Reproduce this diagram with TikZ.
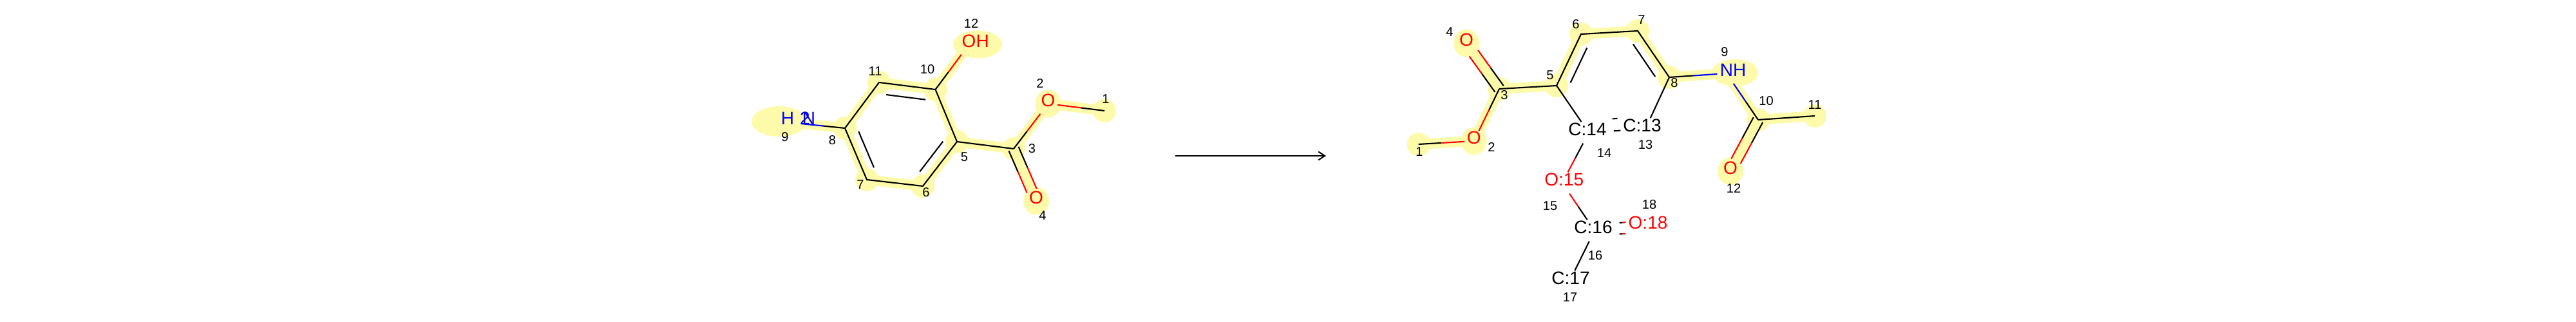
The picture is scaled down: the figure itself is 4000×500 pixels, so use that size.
\documentclass[tikz,border=0pt]{standalone}
\usepackage{fontspec}
\setmainfont{Liberation Sans}
\usetikzlibrary{calc,backgrounds,arrows.meta}

\definecolor{hilite}{HTML}{FDFBAA}
\tikzset{
  bond/.style={line width=.021cm},
  hlbond/.style={line width=.16cm,hilite},
  atom/.style={rectangle,inner sep=0pt,minimum width=.28cm,minimum height=.3cm,font=\fontsize{7.97}{8}\selectfont},
  mapped/.style={atom,minimum width=.76cm,minimum height=.32cm},
  idx/.style={inner sep=0pt,font=\fontsize{5.7}{6}\selectfont}
}
\newcommand{\atomtxt}[2][0cm]{\makebox[0pt]{\kern#1\raisebox{-.04cm}[0pt][0pt]{#2}}}
\newcommand{\halfbond}[4]{
  \path (#1) -- (#2) coordinate[midway] (mid);
  \draw[bond,#3] (#1) -- (mid);
  \draw[bond,#4] (mid) -- (#2);
}
\newcommand{\dblbond}[6]{
  \begin{scope}[transform canvas={xshift=#3,yshift=#4}]
    \halfbond{#1}{#2}{#5}{#6}
  \end{scope}
  \begin{scope}[transform canvas={xshift=-1*(#3),yshift=-1*(#4)}]
    \halfbond{#1}{#2}{#5}{#6}
  \end{scope}
}
\newcommand{\innerbond}[5][.175cm]{
  \draw[bond] ($(#2)!#4!(#3)!#1!90:(#3)$) -- ($(#2)!#5!(#3)!#1!90:(#3)$);
}

\begin{document}
\begin{tikzpicture}[x=.01cm,y=-.01cm]
  \useasboundingbox (0,0) rectangle (4000,500);

  % left molecule
  \coordinate (L1) at (1715,172);
  \node[atom,text=red] (L2) at (1627.5,161) {\atomtxt{O}};
  \coordinate (L3) at (1574,231);
  \node[atom,text=red] (L4) at (1609,312) {\atomtxt{O}};
  \coordinate (L5) at (1486,220);
  \coordinate (L6) at (1433,289);
  \coordinate (L7) at (1346,279);
  \coordinate (L8) at (1312,199);
  \node[atom,minimum width=.66cm] (L9) at (1210,188.6) {};
  \coordinate (L10) at (1452.5,139);
  \coordinate (L11) at (1365,128);
  \node[atom,text=red] (L12) at (1504.6,69) {\atomtxt{\hphantom{H}OH}};
  \node[atom,text=blue] (H9) at (1223,189) {\atomtxt{H}};
  \node[atom,text=blue] (S9) at (1250,189) {\atomtxt{2}};
  \node[atom,text=blue] (N9) at (1256,189) {\atomtxt{N}};

  \draw[bond] (L5) -- (L6) -- (L7) -- (L8) -- (L11) -- (L10) -- (L5) -- (L3);
  \halfbond{L3}{L2}{black}{red}
  \halfbond{L2}{L1}{red}{black}
  \dblbond{L3}{L4}{.075cm}{.032cm}{black}{red}
  \halfbond{L10}{L12}{black}{red}
  \halfbond{L8}{L9}{black}{blue}
  \innerbond{L10}{L11}{.15}{.85}
  \innerbond{L8}{L7}{.15}{.85}
  \innerbond{L6}{L5}{.17}{.85}

  \foreach \x/\y/\t in {1717/154/1,1615/130/2,1602.5/231/3,1619/335/4,1497.5/244/5,1438/299/6,
      1336/287/7,1292.5/218/8,1219/213/9,1440/108/10,1359/111/11,1508/37/12}
    \node[idx] (nl\t) at (\x,\y) {\t};

  % arrow
  \coordinate (from) at (1825,242);
  \coordinate (to) at (2059,242);
  \draw[line width=.02cm,-{Straight Barb[length=.1cm,width=.13cm]}] (from) -- (to);

  % right molecule
  \coordinate (R1) at (2202.6,224);
  \node[atom,text=red] (R2) at (2288.7,219) {\atomtxt{O}};
  \coordinate (R3) at (2328,138);
  \node[atom,text=red] (R4) at (2277,67) {\atomtxt{O}};
  \coordinate (R5) at (2417,133);
  \coordinate (R6) at (2455,53);
  \coordinate (R7) at (2543,48);
  \coordinate (R8) at (2592,120);
  \node[atom,text=blue] (R9) at (2681,114) {\atomtxt{\hphantom{H}NH}};
  \coordinate (R10) at (2730,186);
  \coordinate (R11) at (2818,180);
  \node[atom,text=red] (R12) at (2687,266) {\atomtxt{O}};
  \node[mapped] (R13) at (2555,200) {\atomtxt[-.1cm]{C:13}};
  \node[mapped] (R14) at (2467,206) {\atomtxt[-.04cm]{C:14}};
  \node[mapped,text=red] (R15) at (2425.7,284) {\atomtxt[.06cm]{O:15}};
  \node[mapped] (R16) at (2476,358) {\atomtxt[-.04cm]{C:16}};
  \node[mapped] (R17) at (2437,437) {\atomtxt[.04cm]{C:17}};
  \node[mapped,text=red,minimum width=.68cm] (R18) at (2559,351) {\atomtxt{O:18}};

  \draw[bond] (R3) -- (R5) -- (R6) -- (R7) -- (R8);
  \draw[bond] (R5) -- (R14);
  \draw[bond] (R8) -- (R13);
  \draw[bond] (R14) -- (R13);
  \draw[bond] (R10) -- (R11);
  \draw[bond] (R16) -- (R17);
  \halfbond{R1}{R2}{black}{red}
  \halfbond{R2}{R3}{red}{black}
  \dblbond{R3}{R4}{.067cm}{.048cm}{black}{red}
  \halfbond{R8}{R9}{black}{blue}
  \halfbond{R9}{R10}{blue}{black}
  \dblbond{R10}{R12}{.072cm}{-.039cm}{black}{red}
  \halfbond{R14}{R15}{black}{red}
  \halfbond{R15}{R16}{red}{black}
  \dblbond{R16}{R18}{0cm}{.088cm}{black}{red}
  \innerbond{R6}{R5}{.17}{.85}
  \innerbond{R8}{R7}{.15}{.85}
  \innerbond[.19cm]{R14}{R13}{.43}{.52}

  \foreach \x/\y/\t in {2204/236/1,2316/228/2,2336/148/3,2251/50/4,2407/117/5,2447/38/6,
      2549/31/7,2600/129/8,2678/81/9,2742.5/157/10,2818/163/11,2692/292/12,
      2555/225/13,2491/238/14,2407/320/15,2477/397/16,2438/462/17,2561/318/18}
    \node[idx] (nr\t) at (\x,\y) {\t};

  % highlights go behind everything
  \begin{scope}[on background layer]
    \foreach \a/\b in {L1/L2,L2/L3,L3/L4,L3/L5,L5/L6,L6/L7,L7/L8,L8/L9,L8/L11,L11/L10,L10/L5,L10/L12,
        R1/R2,R2/R3,R3/R4,R3/R5,R5/R6,R6/R7,R7/R8,R8/R9,R9/R10,R10/R11,R10/R12}
      \draw[hlbond] (\a.center) -- (\b.center);
    \foreach \a in {L1,L3,L5,L6,L7,L8,L10,L11,R1,R3,R5,R6,R7,R8,R10,R11}
      \fill[hilite] (\a.center) circle[radius=.18cm];
    \foreach \a in {L2,L4,R2,R4,R12}
      \fill[hilite] (\a.center) ellipse[x radius=.2cm,y radius=.215cm];
    \fill[hilite] (1518,69) ellipse[x radius=.38cm,y radius=.215cm];
    \fill[hilite] (L9.center) ellipse[x radius=.43cm,y radius=.235cm];
    \fill[hilite] (2694,113) ellipse[x radius=.36cm,y radius=.21cm];
  \end{scope}
\end{tikzpicture}
\end{document}
